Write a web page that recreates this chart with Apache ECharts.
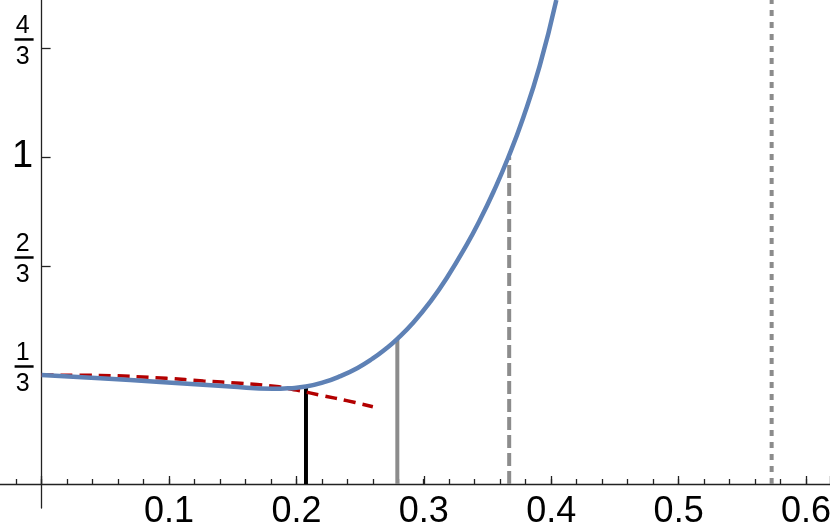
<!DOCTYPE html>
<html>
<head>
<meta charset="utf-8">
<script src="https://cdn.jsdelivr.net/npm/echarts@6/dist/echarts.min.js"></script>
<style>
  html, body { margin: 0; padding: 0; background: #fff; }
  #chart { width: 830px; height: 531px; }
</style>
</head>
<body>
<div id="chart"></div>
<script>
// blue curve
const curveX = [0, 0.046, 0.093, 0.148, 0.1815, 0.195, 0.2075, 0.221, 0.234, 0.248, 0.260, 0.270, 0.2792, 0.2918, 0.305, 0.318, 0.3337, 0.344, 0.3546, 0.366, 0.378, 0.391, 0.404];
const curveY = [0.333, 0.323, 0.312, 0.298, 0.291, 0.293, 0.298, 0.3105, 0.329, 0.355, 0.384, 0.413, 0.444, 0.494, 0.557, 0.630, 0.732, 0.807, 0.893, 0.996, 1.12, 1.279, 1.48];

// red dashed approximation
const approxX = [0, 0.046, 0.098, 0.127, 0.156, 0.1845, 0.200, 0.221, 0.2395, 0.260];
const approxY = [0.333, 0.332, 0.323, 0.315, 0.308, 0.298, 0.287, 0.270, 0.255, 0.236];

// vertical markers (x position and height)
const markerX = [0.2075, 0.2792, 0.367, 0.573];
const markerTop = [0.298, 0.444, 1.0, 1.48];

const xTicks = [0.1, 0.2, 0.3, 0.4, 0.5, 0.6];
const xTickLabels = ['0.1', '0.2', '0.3', '0.4', '0.5', '0.6'];
const yTicks = [1 / 3, 2 / 3, 1, 4 / 3];
const yTickLabels = [['1', '3'], ['2', '3'], '1', ['4', '3']];

const markerStyles = [
  { color: '#000000', width: 4, type: 'solid' },
  { color: '#8c8c8c', width: 4, type: 'solid' },
  { color: '#8c8c8c', width: 4, type: [13, 5] },
  { color: '#8c8c8c', width: 4, type: [6, 6] }
];

const axisColor = '#222';
const zip = (xs, ys) => xs.map((x, i) => [x, ys[i]]);

const markerSeries = markerX.map((x, i) => ({
  type: 'line',
  data: [[x, 0], [x, markerTop[i]]],
  symbol: 'none',
  lineStyle: markerStyles[i],
  silent: true,
  z: 2
}));

function xLabel(v) {
  const i = xTicks.findIndex(t => Math.abs(t - v) < 1e-6);
  return i >= 0 ? xTickLabels[i] : '';
}

function yLabel(v) {
  const i = yTicks.findIndex(t => Math.abs(t - v) < 1e-6);
  if (i < 0) return '';
  const lab = yTickLabels[i];
  if (Array.isArray(lab)) return '{n|' + lab[0] + '}\n{bar| }\n{d|' + lab[1] + '}';
  return '{one|' + lab + '}';
}

const hidden = { show: false };

const chart = echarts.init(document.getElementById('chart'));
chart.setOption({
  animation: false,
  grid: [
    // main plot: origin at the axes crossing
    { left: 41.6, right: 0, top: 0, bottom: 47, containLabel: false, outerBoundsMode: 'none' },
    // full-width x axis line with minor ticks (reaches left of the origin)
    { left: -9.4, right: -1.4, top: 0, bottom: 47, containLabel: false, outerBoundsMode: 'none' },
    // y axis line reaching below the x axis
    { left: 41.6, right: 0, top: 0, bottom: 23, containLabel: false, outerBoundsMode: 'none' }
  ],
  xAxis: [
    {
      type: 'value', gridIndex: 0, min: 0, max: 0.6188, interval: 0.1,
      axisLine: { show: false },
      axisTick: { inside: true, length: 8, lineStyle: { color: axisColor, width: 1.3 } },
      splitLine: hidden,
      axisLabel: {
        formatter: xLabel, margin: 10, color: '#000',
        fontSize: 36, fontFamily: 'Liberation Sans',
        showMinLabel: true, showMaxLabel: true
      }
    },
    {
      type: 'value', gridIndex: 1, min: -0.04, max: 0.62, interval: 0.02,
      axisLine: { lineStyle: { color: axisColor, width: 1.3 } },
      axisTick: { inside: true, length: 5, lineStyle: { color: axisColor, width: 1.3 } },
      splitLine: hidden, axisLabel: hidden
    },
    { type: 'value', gridIndex: 2, min: 0, max: 1, show: false }
  ],
  yAxis: [
    {
      type: 'value', gridIndex: 0, min: 0, max: 1.48,
      axisLine: { show: false },
      axisTick: { inside: true, length: 9, customValues: yTicks, lineStyle: { color: axisColor, width: 1.3 } },
      splitLine: hidden,
      axisLabel: {
        customValues: yTicks,
        formatter: yLabel,
        margin: 8,
        color: '#000',
        fontFamily: 'Liberation Sans',
        padding: [0, 0, 8, 0],
        rich: {
          n: { fontSize: 25, lineHeight: 21, width: 22, align: 'center', fontFamily: 'Liberation Sans' },
          bar: { width: 19, height: 2.5, lineHeight: 6, backgroundColor: '#000', fontSize: 2 },
          d: { fontSize: 25, lineHeight: 30, width: 22, align: 'center', fontFamily: 'Liberation Sans' },
          one: { fontSize: 38, lineHeight: 38, width: 22, align: 'center', fontFamily: 'Liberation Sans', padding: [8, 0, 0, 0] }
        }
      }
    },
    { type: 'value', gridIndex: 1, min: 0, max: 1, show: false },
    {
      type: 'value', gridIndex: 2, min: 0, max: 1,
      axisLine: { show: true, onZero: false, lineStyle: { color: axisColor, width: 1.3 } },
      axisTick: hidden, axisLabel: hidden, splitLine: hidden
    }
  ],
  series: [
    ...markerSeries,
    {
      type: 'line',
      data: zip(approxX, approxY),
      symbol: 'none',
      smooth: 0.4,
      lineStyle: { color: '#b30000', width: 3.5, type: [12, 7] },
      z: 3
    },
    {
      type: 'line',
      data: zip(curveX, curveY),
      symbol: 'none',
      smooth: 0.5,
      lineStyle: { color: '#5e81b5', width: 4.5 },
      z: 4
    }
  ]
});
</script>
</body>
</html>
